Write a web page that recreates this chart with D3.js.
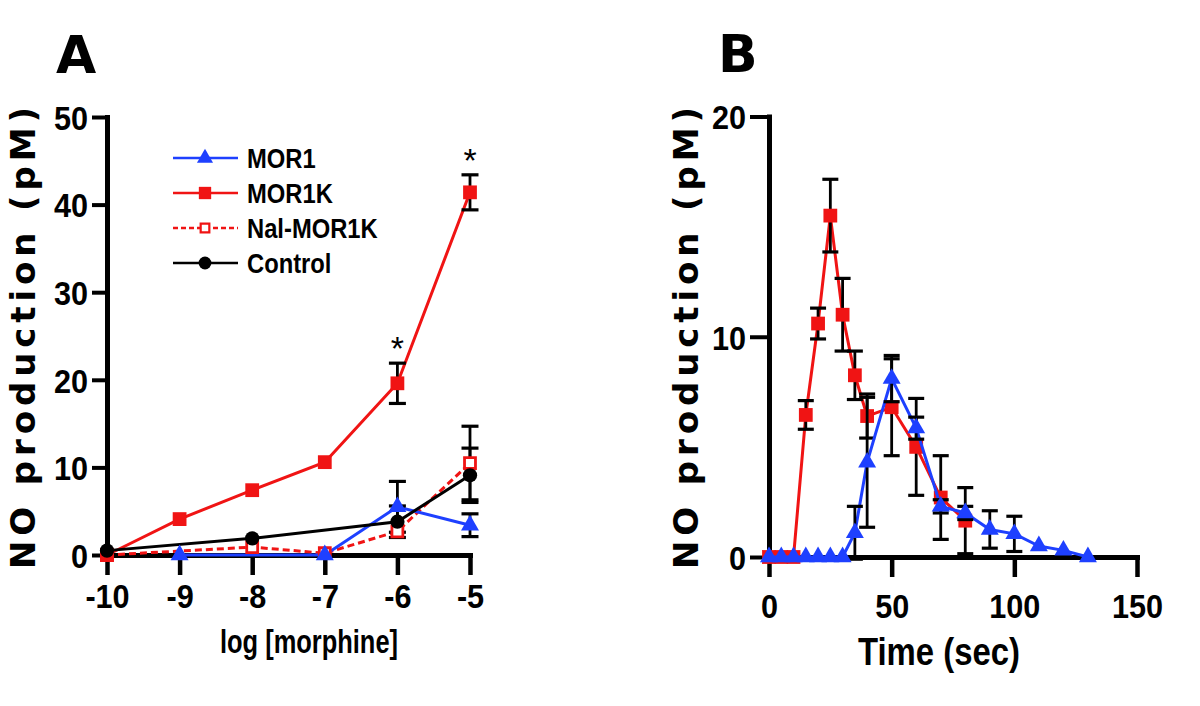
<!DOCTYPE html>
<meta charset="utf-8">
<script src="https://d3js.org/d3.v7.min.js"></script>
<body style="margin: 0; background: #fff;">
<svg id="chart" width="1200" height="706"></svg>
</body>

<style>
  text { fill: #000; }
  .narrow { font-family: "Liberation Sans", Arial, sans-serif; font-weight: bold; }
  .wide { font-family: "DejaVu Sans", Verdana, sans-serif; font-weight: bold; }
  .axis path, .axis line { stroke: #000; }
</style>

<script>
// ---- panel A: NO production vs log [morphine] ----
var logDose = [-10, -9, -8, -7, -6, -5];
var yTicksA = [0, 10, 20, 30, 40, 50];

var mor1kDose = [-10, -9, -8, -7, -6, -5];
var mor1kMean = [0, 4.1, 7.4, 10.6, 19.6, 41.4];
var mor1kSem  = [0, 0, 0, 0, 2.3, 2.0];

var mor1Dose = [-9, -7, -6, -5];
var mor1Mean = [0, 0, 5.5, 3.4];
var mor1Sem  = [0, 0, 2.9, 1.3];

var nalDose = [-10, -8, -7, -6, -5];
var nalMean = [0, 0.9, 0.2, 2.7, 10.5];
var nalSem  = [0, 0, 0, 0, 4.2];

var ctrlDose = [-10, -8, -6, -5];
var ctrlMean = [0.5, 1.9, 3.8, 9.1];
var ctrlSem  = [0, 0, 1.8, 3.1];

var starDose = [-6, -5];   // significant points (MOR1K)

var legendNames = ["MOR1", "MOR1K", "Nal-MOR1K", "Control"];

// ---- panel B: NO production vs time ----
var timeTicks = [0, 50, 100, 150];
var yTicksB = [0, 10, 20];

var timeK = [0, 5, 10, 15, 20, 25, 30, 35, 40, 50, 60, 70, 80];
var mor1kTime = [0, 0, 0, 6.45, 10.6, 15.5, 11.0, 8.25, 6.4, 6.8, 5.0, 2.7, 1.65];
var mor1kTimeSem = [0, 0, 0, 0.65, 0.7, 1.65, 1.65, 1.1, 1.0, 2.2, 2.2, 1.9, 1.5];

var time1 = [0, 5, 10, 15, 20, 25, 30, 35, 40, 50, 60, 70, 80, 90, 100, 110, 120, 130];
var mor1Time = [0, 0, 0, 0, 0, 0, 0, 1.1, 4.3, 8.1, 5.85, 2.3, 2.0, 1.25, 1.05, 0.5, 0.3, 0];
var mor1TimeSem = [0, 0, 0, 0, 0, 0, 0, 1.2, 2.95, 1.05, 0.5, 0.3, 0.3, 0.85, 0.8, 0, 0, 0];

var RED = "#f01414", BLUE = "#1e40ff";

var svg = d3.select("#chart");

var xA = d3.scaleLinear().domain([-10, -5]).range([107, 470]);
var yA = d3.scaleLinear().domain([0, 50]).range([555, 117]);
var xB = d3.scaleLinear().domain([0, 150]).range([769, 1137]);
var yB = d3.scaleLinear().domain([0, 20]).range([557, 116.5]);

function zip(xs, ys, es) {
  return xs.map(function(d, i) { return {x: d, y: ys[i], e: es[i]}; });
}

// squeeze bold text horizontally, the original uses a condensed face
function squeeze(sel, ratio) {
  sel.each(function() {
    var w = this.getComputedTextLength();
    d3.select(this).attr("textLength", w * ratio).attr("lengthAdjust", "spacingAndGlyphs");
  });
}

function drawAxes(x, y, xt, yt, xLabelDy, yLabelDx, yTick) {
  var gx = svg.append("g").attr("class", "axis")
      .attr("transform", "translate(0," + y(0) + ")")
      .call(d3.axisBottom(x).tickValues(xt).tickSize(20).tickSizeOuter(0)
            .tickFormat(function(d) { return String(d); }));
  gx.select(".domain").attr("stroke-width", 5).attr("stroke-linecap", "square");
  gx.selectAll(".tick line").attr("stroke-width", 4.5);
  gx.selectAll(".tick text").attr("class", "narrow").attr("font-size", 34)
      .attr("y", xLabelDy).attr("dy", 0).attr("fill", "#000");

  var gy = svg.append("g").attr("class", "axis")
      .attr("transform", "translate(" + x.range()[0] + ",0)")
      .call(d3.axisLeft(y).tickValues(yt).tickSize(yTick).tickSizeOuter(0)
            .tickFormat(function(d) { return String(d); }));
  gy.select(".domain").attr("stroke-width", 5).attr("stroke-linecap", "square");
  gy.selectAll(".tick line").attr("stroke-width", 4);
  gy.selectAll(".tick text").attr("class", "narrow").attr("font-size", 34)
      .attr("x", yLabelDx).attr("dy", "0.36em").attr("fill", "#000");

  svg.selectAll(".axis").attr("font-family", null);
  squeeze(gx.selectAll(".tick text"), 0.9);
  squeeze(gy.selectAll(".tick text"), 0.9);
}

function drawLine(x, y, pts, color, dash) {
  svg.append("path")
      .datum(pts)
      .attr("fill", "none")
      .attr("stroke", color)
      .attr("stroke-width", 3)
      .attr("stroke-dasharray", dash || null)
      .attr("d", d3.line().x(function(d) { return x(d.x); }).y(function(d) { return y(d.y); }));
}

function drawErrors(x, y, pts, cap) {
  var g = svg.append("g").attr("stroke", "#000");
  pts.filter(function(d) { return d.e > 0; }).forEach(function(d) {
    g.append("line").attr("x1", x(d.x)).attr("x2", x(d.x))
        .attr("y1", y(d.y + d.e)).attr("y2", y(d.y - d.e)).attr("stroke-width", 2.8);
    [d.y + d.e, d.y - d.e].forEach(function(v) {
      g.append("line").attr("x1", x(d.x) - cap).attr("x2", x(d.x) + cap)
          .attr("y1", y(v)).attr("y2", y(v)).attr("stroke-width", 3.2);
    });
  });
}

function drawMarkers(x, y, pts, style) {
  svg.append("g").selectAll("path")
    .data(pts)
    .join("path")
      .attr("transform", function(d) { return "translate(" + x(d.x) + "," + y(d.y) + ")"; })
      .attr("d", d3.symbol().type(style.type).size(style.size))
      .attr("fill", style.fill)
      .attr("stroke", style.stroke || "none")
      .attr("stroke-width", style.sw || 0);
}

var styles = {
  "MOR1":      {color: BLUE, dash: null, type: d3.symbolTriangle, size: 140, fill: BLUE},
  "MOR1K":     {color: RED,  dash: null, type: d3.symbolSquare, size: 190, fill: RED},
  "Nal-MOR1K": {color: RED,  dash: "7,4", type: d3.symbolSquare, size: 120, fill: "#fff", stroke: RED, sw: 2.8},
  "Control":   {color: "#000", dash: null, type: d3.symbolCircle, size: 160, fill: "#000"}
};

// ---------- Panel A ----------
drawAxes(xA, yA, logDose, yTicksA, 53, -19, 15);

var sA = {
  "Nal-MOR1K": zip(nalDose, nalMean, nalSem),
  "MOR1": zip(mor1Dose, mor1Mean, mor1Sem),
  "MOR1K": zip(mor1kDose, mor1kMean, mor1kSem),
  "Control": zip(ctrlDose, ctrlMean, ctrlSem)
};
var orderA = ["Nal-MOR1K", "MOR1", "MOR1K", "Control"];
orderA.forEach(function(k) { drawLine(xA, yA, sA[k], styles[k].color, styles[k].dash); });
orderA.forEach(function(k) { drawErrors(xA, yA, sA[k], 8.5); });
orderA.forEach(function(k) { drawMarkers(xA, yA, sA[k], styles[k]); });

// asterisks above the MOR1K error bars
starDose.forEach(function(dv) {
  var i = mor1kDose.indexOf(dv);
  svg.append("text")
      .attr("x", xA(dv)).attr("y", yA(mor1kMean[i] + mor1kSem[i]) - 3)
      .attr("text-anchor", "middle")
      .attr("font-family", "Liberation Sans, sans-serif")
      .attr("font-size", 34)
      .text("*");
});

// legend
legendNames.forEach(function(name, i) {
  var st = styles[name];
  var yy = 158 + i * 35;
  svg.append("line").attr("x1", 173).attr("x2", 238).attr("y1", yy).attr("y2", yy)
      .attr("stroke", st.color).attr("stroke-width", 2.5)
      .attr("stroke-dasharray", st.dash ? "5,3" : null);
  svg.append("path")
      .attr("transform", "translate(205," + yy + ")")
      .attr("d", d3.symbol().type(st.type).size(name === "Nal-MOR1K" ? 75 : st.size * 0.8))
      .attr("fill", st.fill).attr("stroke", st.stroke || "none").attr("stroke-width", st.sw ? 2.2 : 0);
  var t = svg.append("text").attr("class", "narrow").attr("font-size", 27)
      .attr("x", 247).attr("y", yy + 9.5).text(name);
  squeeze(t, 0.88);
});

svg.append("text").attr("class", "narrow").attr("font-size", 33)
    .attr("x", 309).attr("y", 653).attr("text-anchor", "middle")
    .attr("textLength", 178).attr("lengthAdjust", "spacingAndGlyphs")
    .text("log [morphine]");

svg.append("text").attr("class", "wide").attr("font-size", 34)
    .attr("transform", "translate(35,338) rotate(-90)")
    .attr("text-anchor", "middle")
    .attr("textLength", 462).attr("lengthAdjust", "spacing")
    .text("NO production  (pM)");

svg.append("text").attr("class", "wide").attr("font-size", 52)
    .attr("x", 56).attr("y", 73).text("A");

// ---------- Panel B ----------
drawAxes(xB, yB, timeTicks, yTicksB, 61, -23, 19);

var redB = zip(timeK, mor1kTime, mor1kTimeSem);
var blueB = zip(time1, mor1Time, mor1TimeSem);
drawLine(xB, yB, redB, RED);
drawErrors(xB, yB, redB, 8);
drawMarkers(xB, yB, redB, styles["MOR1K"]);
drawLine(xB, yB, blueB, BLUE);
drawErrors(xB, yB, blueB, 8);
drawMarkers(xB, yB, blueB, styles["MOR1"]);

svg.append("text").attr("class", "narrow").attr("font-size", 38)
    .attr("x", 939).attr("y", 665).attr("text-anchor", "middle")
    .attr("textLength", 162).attr("lengthAdjust", "spacingAndGlyphs")
    .text("Time (sec)");

svg.append("text").attr("class", "wide").attr("font-size", 34)
    .attr("transform", "translate(698,338) rotate(-90)")
    .attr("text-anchor", "middle")
    .attr("textLength", 462).attr("lengthAdjust", "spacing")
    .text("NO production  (pM)");

svg.append("text").attr("class", "wide").attr("font-size", 52)
    .attr("x", 718).attr("y", 72).text("B");
</script>
